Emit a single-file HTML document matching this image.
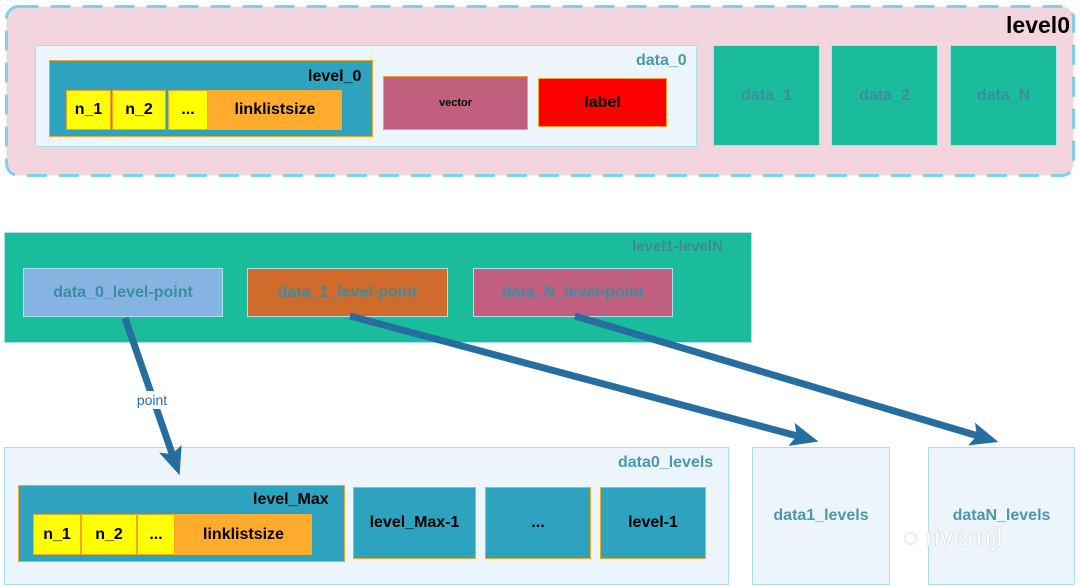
<!DOCTYPE html>
<html><head><meta charset="utf-8"><style>
body{margin:0;width:1080px;height:586px;background:#fff;position:relative;overflow:hidden;font-family:"Liberation Sans Narrow","Liberation Sans",sans-serif;font-weight:bold}
.b{position:absolute;box-sizing:border-box;display:flex;align-items:center;justify-content:center}
.t{position:absolute;white-space:nowrap}
.o{border:1px solid #f5a623}
.y{background:#ffff00;color:#000;font-size:16px}
.or{background:#ffab2e;color:#000;font-size:16px}
.tl{background:#2ea3bf}
.g{background:#1abc9c;color:#3d8ca0;font-size:16px;border:1px solid #a8e3f0}
.lb{background:#ecf5fb;border:1px solid #a8dff0}
</style></head><body>
<svg style="position:absolute;left:0;top:0" width="1080" height="586">
<rect x="6.5" y="6.5" width="1067" height="169" rx="12" fill="#f2d5dd" stroke="#7fd0ec" stroke-width="3" stroke-dasharray="20,12"/>
</svg>
<div class="t" style="right:10px;top:12px;font-size:23px;color:#000">level0</div>
<div class="b lb" style="left:35px;top:45px;width:662px;height:102px"></div>
<div class="t" style="left:636px;top:52px;font-size:16px;color:#4a98ad">data_0</div>
<div class="b tl o" style="left:49px;top:60px;width:324px;height:77px"></div>
<div class="t" style="left:308px;top:68px;font-size:16px;color:#000">level_0</div>
<div class="b y o" style="left:66px;top:90px;width:45px;height:40px">n_1</div>
<div class="b y o" style="left:112px;top:90px;width:54px;height:40px">n_2</div>
<div class="b y o" style="left:168px;top:90px;width:40px;height:40px">...</div>
<div class="b or" style="left:208px;top:90px;width:134px;height:40px">linklistsize</div>
<div class="b o" style="left:383px;top:76px;width:145px;height:54px;background:#c0607e;font-size:11px;color:#000">vector</div>
<div class="b o" style="left:538px;top:78px;width:129px;height:49px;background:#ff0000;font-size:16px;color:#000">label</div>
<div class="b g" style="left:713px;top:45px;width:107px;height:101px">data_1</div>
<div class="b g" style="left:831px;top:45px;width:107px;height:101px">data_2</div>
<div class="b g" style="left:950px;top:45px;width:107px;height:101px">data_N</div>
<!-- middle -->
<div class="b" style="left:4px;top:232px;width:748px;height:111px;background:#1abc9c;border:1px solid #a8e3f0"></div>
<div class="t" style="left:632px;top:238px;font-size:15px;color:#3f8a90">level1-levelN</div>
<div class="b" style="left:23px;top:268px;width:200px;height:49px;background:#85b4e2;border:1px solid #a8e3f0;color:#3d8ca0;font-size:16px">data_0_level-point</div>
<div class="b" style="left:247px;top:268px;width:201px;height:49px;background:#d06b2b;border:1px solid #a8e3f0;color:#3d8ca0;font-size:16px">data_1_level-point</div>
<div class="b" style="left:473px;top:268px;width:200px;height:49px;background:#c0607e;border:1px solid #a8e3f0;color:#3d8ca0;font-size:16px">data_N_level-point</div>
<!-- bottom -->
<div class="b lb" style="left:4px;top:447px;width:725px;height:138px"></div>
<div class="t" style="left:618px;top:454px;font-size:16px;color:#4a98ad">data0_levels</div>
<div class="b tl o" style="left:18px;top:485px;width:327px;height:77px"></div>
<div class="t" style="left:253px;top:491px;font-size:16px;color:#000">level_Max</div>
<div class="b y o" style="left:33px;top:514px;width:48px;height:41px">n_1</div>
<div class="b y o" style="left:81px;top:514px;width:56px;height:41px">n_2</div>
<div class="b y o" style="left:137px;top:514px;width:38px;height:41px">...</div>
<div class="b or" style="left:175px;top:514px;width:137px;height:41px">linklistsize</div>
<div class="b tl o" style="left:353px;top:487px;width:123px;height:72px;font-size:16px;color:#000">level_Max-1</div>
<div class="b tl o" style="left:485px;top:487px;width:106px;height:72px;font-size:16px;color:#000">...</div>
<div class="b tl o" style="left:600px;top:487px;width:106px;height:72px;font-size:16px;color:#000">level-1</div>
<div class="b lb" style="left:752px;top:447px;width:138px;height:138px;font-size:16px;color:#4a98ad">data1_levels</div>
<div class="b lb" style="left:928px;top:447px;width:147px;height:138px;font-size:16px;color:#4a98ad">dataN_levels</div>
<div class="t" style="left:903px;top:522px;font-size:26px;color:#fff;font-weight:normal;text-shadow:0 0 1px #888">◌ rivernjl</div>
<svg style="position:absolute;left:0;top:0" width="1080" height="586">
<defs><marker id="a" markerWidth="4" markerHeight="4" refX="2" refY="2" orient="auto"><path d="M0,0.3 L4,2 L0,3.7 L0.8,2 Z" fill="#266ea0"/></marker></defs>
<g stroke="#266ea0" stroke-width="7" fill="none" marker-end="url(#a)">
<line x1="125" y1="318" x2="175" y2="462"/>
<line x1="350" y1="316" x2="805" y2="438"/>
<line x1="575" y1="316" x2="985" y2="438"/>
</g>
<rect x="132" y="391" width="40" height="18" fill="#fff"/>
<text x="152" y="405" text-anchor="middle" font-family="Liberation Sans" font-size="14" font-weight="normal" fill="#266ea0">point</text>
</svg>
</body></html>
